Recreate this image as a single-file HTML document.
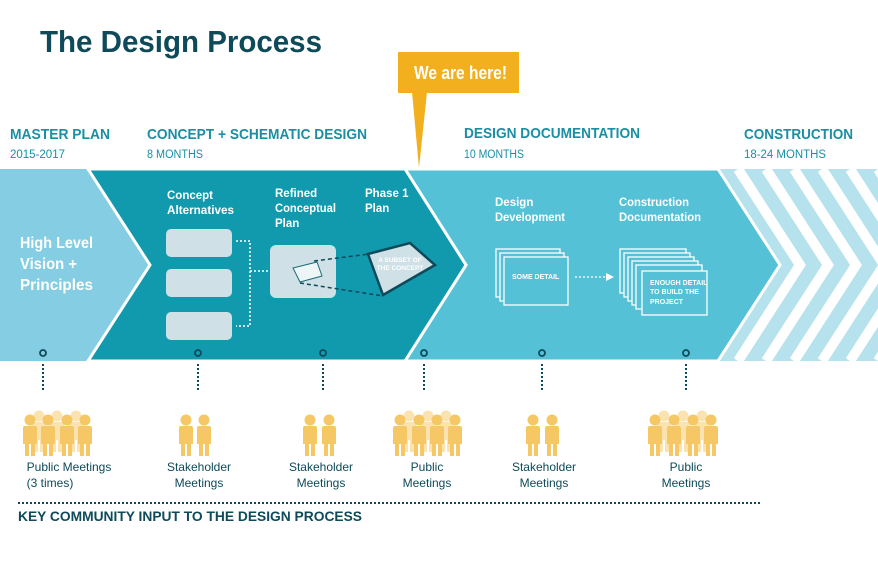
<!DOCTYPE html>
<html><head><meta charset="utf-8"><style>
html,body{margin:0;padding:0;background:#fff;width:878px;height:568px;overflow:hidden}
svg{display:block}
text{font-family:"Liberation Sans",sans-serif}
</style></head><body>
<svg width="878" height="568" viewBox="0 0 878 568" xmlns="http://www.w3.org/2000/svg">
<defs>
<clipPath id="cstripe"><polygon points="718,169 878,169 878,361 718,361 780,265"/></clipPath>
<g id="p"><circle cx="0" cy="-36" r="5.5"/><path d="M-7,-28 Q-7,-30 -5,-30 L5,-30 Q7,-30 7,-28 L7,-12 L5,-12 L5,0 L1,0 L1,-12 L-1,-12 L-1,0 L-5,0 L-5,-12 L-7,-12 Z"/></g>
</defs>
<text x="40" y="52" font-size="31" font-weight="bold" fill="#0e4a5a" textLength="282" lengthAdjust="spacingAndGlyphs">The Design Process</text>
<rect x="398" y="52" width="121" height="41" fill="#f2b01e"/>
<polygon points="412,92 427,92 419,168" fill="#f2b01e"/>
<text x="414" y="79" font-size="18" font-weight="bold" fill="#fff" textLength="93" lengthAdjust="spacingAndGlyphs">We are here!</text>
<g fill="#1a8ea3" font-weight="bold" font-size="15">
<text x="10" y="139" textLength="100" lengthAdjust="spacingAndGlyphs">MASTER PLAN</text>
<text x="147" y="139" textLength="220" lengthAdjust="spacingAndGlyphs">CONCEPT + SCHEMATIC DESIGN</text>
<text x="464" y="138" textLength="176" lengthAdjust="spacingAndGlyphs">DESIGN DOCUMENTATION</text>
<text x="744" y="139" textLength="109" lengthAdjust="spacingAndGlyphs">CONSTRUCTION</text>
</g>
<g fill="#1a8ea3" font-size="11.5">
<text x="10" y="158" textLength="55" lengthAdjust="spacingAndGlyphs">2015-2017</text>
<text x="147" y="158" textLength="56" lengthAdjust="spacingAndGlyphs">8 MONTHS</text>
<text x="464" y="158" textLength="60" lengthAdjust="spacingAndGlyphs">10 MONTHS</text>
<text x="744" y="158" textLength="82" lengthAdjust="spacingAndGlyphs">18-24 MONTHS</text>
</g>
<rect x="0" y="169" width="878" height="192" fill="#84cde3"/>
<g clip-path="url(#cstripe)">
<rect x="700" y="169" width="178" height="192" fill="#b5e2ec"/>
<g fill="none" stroke="#fff" stroke-width="10">
<polyline points="738,169 800,265 738,361"/>
<polyline points="766,169 828,265 766,361"/>
<polyline points="794,169 856,265 794,361"/>
<polyline points="822,169 884,265 822,361"/>
<polyline points="850,169 912,265 850,361"/>
<polyline points="878,169 940,265 878,361"/>
</g>
</g>
<polygon points="405,169 718,169 780,265 718,361 405,361 466,265" fill="#54c1d6" stroke="#fff" stroke-width="3"/>
<polygon points="88,169 405,169 466,265 405,361 88,361 150,265" fill="#1199ad" stroke="#fff" stroke-width="3"/>
<rect x="0" y="167" width="878" height="2" fill="#fff"/>
<rect x="0" y="361" width="878" height="3" fill="#fff"/>
<g fill="#fff" font-weight="bold" font-size="15.5">
<text x="20" y="248" textLength="73" lengthAdjust="spacingAndGlyphs">High Level</text><text x="20" y="269" textLength="57" lengthAdjust="spacingAndGlyphs">Vision +</text><text x="20" y="290" textLength="73" lengthAdjust="spacingAndGlyphs">Principles</text>
</g>
<g fill="#fff" font-weight="bold" font-size="11.5">
<text x="167" y="199">Concept</text><text x="167" y="214" textLength="67" lengthAdjust="spacingAndGlyphs">Alternatives</text>
<text x="275" y="197">Refined</text><text x="275" y="212" textLength="61" lengthAdjust="spacingAndGlyphs">Conceptual</text><text x="275" y="227">Plan</text>
<text x="365" y="197">Phase 1</text><text x="365" y="212">Plan</text>
<text x="495" y="206">Design</text><text x="495" y="221" textLength="70" lengthAdjust="spacingAndGlyphs">Development</text>
<text x="619" y="206" textLength="70" lengthAdjust="spacingAndGlyphs">Construction</text><text x="619" y="221" textLength="82" lengthAdjust="spacingAndGlyphs">Documentation</text>
</g>
<g fill="#cfe0e6">
<rect x="166" y="229" width="66" height="28" rx="5"/>
<rect x="166" y="269" width="66" height="28" rx="5"/>
<rect x="166" y="312" width="66" height="28" rx="5"/>
<rect x="270" y="245" width="66" height="53" rx="6"/>
</g>
<g fill="none" stroke="#fff" stroke-width="1.5" stroke-dasharray="2,2">
<polyline points="236,241 250,241 250,326 236,326"/>
<line x1="250" y1="271" x2="268" y2="271"/>
</g>
<polygon points="293,268 317,262 322,276 300,282" fill="#eef5f7" stroke="#1a6a78" stroke-width="1"/>
<g stroke="#0e4a5a" stroke-width="1.5" stroke-dasharray="4,3"><line x1="314" y1="261" x2="370" y2="254"/><line x1="300" y1="283" x2="383" y2="296"/></g>
<polygon points="368,254 410,243 435,265 383,295" fill="#cfe0e6" stroke="#0e4a5a" stroke-width="2.5"/>
<text x="400" y="262" font-size="6.5" fill="#fff" text-anchor="middle" font-weight="bold">A SUBSET OF</text>
<text x="400" y="270" font-size="6.5" fill="#fff" text-anchor="middle" font-weight="bold">THE CONCEPT</text>
<g fill="#54c1d6" stroke="#fff" stroke-width="1.3">
<rect x="496" y="249" width="64" height="48"/><rect x="500" y="253" width="64" height="48"/><rect x="504" y="257" width="64" height="48"/>
<rect x="620" y="249" width="66" height="44"/><rect x="624" y="253" width="66" height="44"/><rect x="628" y="257" width="66" height="44"/><rect x="632" y="261" width="66" height="44"/><rect x="636" y="265" width="66" height="44"/><rect x="642" y="271" width="65" height="44"/>
</g>
<text x="512" y="279" font-size="7" fill="#fff" font-weight="bold">SOME DETAIL</text>
<g font-size="7" fill="#fff" font-weight="bold"><text x="650" y="285">ENOUGH DETAIL</text><text x="650" y="294">TO BUILD THE</text><text x="650" y="304">PROJECT</text></g>
<line x1="575" y1="277" x2="606" y2="277" stroke="#fff" stroke-width="1.3" stroke-dasharray="2,2"/>
<polygon points="606,273 614,277 606,281" fill="#fff"/>
<g fill="none" stroke="#0e4a5a" stroke-width="1.8">
<circle cx="43" cy="353" r="3"/><circle cx="198" cy="353" r="3"/><circle cx="323" cy="353" r="3"/><circle cx="424" cy="353" r="3"/><circle cx="542" cy="353" r="3"/><circle cx="686" cy="353" r="3"/>
</g>
<g stroke="#0e4a5a" stroke-width="2" stroke-dasharray="2,2">
<line x1="43" y1="364" x2="43" y2="392"/><line x1="198" y1="364" x2="198" y2="392"/><line x1="323" y1="364" x2="323" y2="392"/><line x1="424" y1="364" x2="424" y2="392"/><line x1="542" y1="364" x2="542" y2="392"/><line x1="686" y1="364" x2="686" y2="392"/>
</g>
<g fill="#fbe3b0">
<use href="#p" x="39" y="452"/><use href="#p" x="57" y="452"/><use href="#p" x="76" y="452"/>
<use href="#p" x="409" y="452"/><use href="#p" x="428" y="452"/><use href="#p" x="446" y="452"/>
<use href="#p" x="664" y="452"/><use href="#p" x="683" y="452"/><use href="#p" x="702" y="452"/>
</g>
<g fill="#f5c865">
<use href="#p" x="30" y="456"/><use href="#p" x="48" y="456"/><use href="#p" x="67" y="456"/><use href="#p" x="85" y="456"/>
<use href="#p" x="186" y="456"/><use href="#p" x="204" y="456"/>
<use href="#p" x="310" y="456"/><use href="#p" x="329" y="456"/>
<use href="#p" x="400" y="456"/><use href="#p" x="419" y="456"/><use href="#p" x="437" y="456"/><use href="#p" x="455" y="456"/>
<use href="#p" x="533" y="456"/><use href="#p" x="552" y="456"/>
<use href="#p" x="655" y="456"/><use href="#p" x="674" y="456"/><use href="#p" x="693" y="456"/><use href="#p" x="711" y="456"/>
</g>
<g fill="#0e4a5a" font-size="12" text-anchor="middle">
<text x="69" y="471">Public Meetings</text><text x="50" y="487">(3 times)</text>
<text x="199" y="471">Stakeholder</text><text x="199" y="487">Meetings</text>
<text x="321" y="471">Stakeholder</text><text x="321" y="487">Meetings</text>
<text x="427" y="471">Public</text><text x="427" y="487">Meetings</text>
<text x="544" y="471">Stakeholder</text><text x="544" y="487">Meetings</text>
<text x="686" y="471">Public</text><text x="686" y="487">Meetings</text>
</g>
<line x1="18" y1="503" x2="762" y2="503" stroke="#0e4a5a" stroke-width="2" stroke-dasharray="2,2"/>
<text x="18" y="521" font-size="14" font-weight="bold" fill="#0e4a5a" textLength="344" lengthAdjust="spacingAndGlyphs">KEY COMMUNITY INPUT TO THE DESIGN PROCESS</text>
</svg>
</body></html>
